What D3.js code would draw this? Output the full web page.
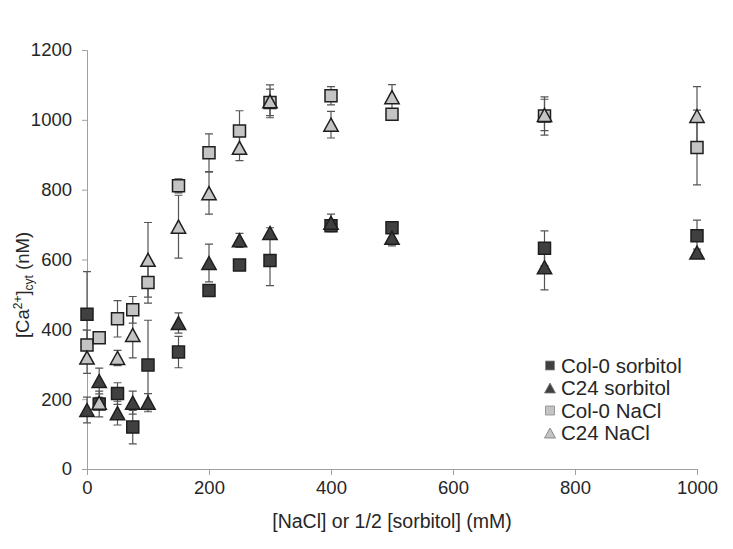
<!DOCTYPE html>
<html>
<head>
<meta charset="utf-8">
<script src="https://cdn.jsdelivr.net/npm/d3@7"></script>
<style>
  body { margin: 0; background: #fff; }
  text { font-family: "Liberation Sans", Arial, sans-serif; fill: #262626; }
</style>
</head>
<body>
<div id="app"></div>
<script>
// concentrations (mM)
let conc = [0, 20, 50, 75, 100, 150, 200, 250, 300, 400, 500, 750, 1000]

// [Ca2+]cyt means (nM) and error (nM)
let col0Sorb = [443, 186, 216, 120, 298, 335, 511, 584, 597, 697, 691, 632, 668]
let col0SorbErr = [122, 37, 31, 48, 128, 45, 10, 10, 72, 15, 15, 50, 45]
let c24Sorb = [169, 252, 160, 190, 190, 418, 590, 655, 676, 705, 662, 578, 620]
let c24SorbErr = [37, 37, 34, 33, 26, 29, 54, 20, 15, 25, 23, 65, 10]
let col0NaCl = [355, 376, 430, 456, 534, 811, 906, 968, 1050, 1069, 1016, 1011, 921]
let col0NaClErr = [43, 15, 52, 38, 59, 20, 54, 58, 38, 26, 10, 55, 107]
let c24NaCl = [319, 190, 318, 384, 599, 694, 790, 920, 1053, 986, 1065, 1014, 1011]
let c24NaClErr = [45, 15, 22, 66, 107, 90, 60, 37, 47, 38, 36, 45, 84]

let seriesNames = ["Col-0 sorbitol", "C24 sorbitol", "Col-0 NaCl", "C24 NaCl"]
let xTicks = [0, 200, 400, 600, 800, 1000]
let yTicks = [0, 200, 400, 600, 800, 1000, 1200]

let series = [
  {name: seriesNames[0], vals: col0Sorb, err: col0SorbErr, shape: "square", fill: "#404040"},
  {name: seriesNames[1], vals: c24Sorb, err: c24SorbErr, shape: "triangle", fill: "#404040"},
  {name: seriesNames[2], vals: col0NaCl, err: col0NaClErr, shape: "square", fill: "#c4c4c4"},
  {name: seriesNames[3], vals: c24NaCl, err: c24NaClErr, shape: "triangle", fill: "#c4c4c4"}
]

let width = 733, height = 549
let margin = {top: 50, right: 36, bottom: 80, left: 87}

let svg = d3.select("#app").append("svg")
    .attr("width", width)
    .attr("height", height)

let x = d3.scaleLinear().domain([0, 1000]).range([margin.left, width - margin.right])
let y = d3.scaleLinear().domain([0, 1200]).range([height - margin.bottom, margin.top])

// axes
let xAxis = svg.append("g")
    .attr("transform", `translate(0,${y(0)})`)
    .call(d3.axisBottom(x).tickValues(xTicks).tickSize(6).tickPadding(6).tickFormat(d3.format("d")))
let yAxis = svg.append("g")
    .attr("transform", `translate(${x(0)},0)`)
    .call(d3.axisLeft(y).tickValues(yTicks).tickSize(5).tickPadding(10).tickFormat(d3.format("d")))

for (let ax of [xAxis, yAxis]) {
  ax.select(".domain").attr("stroke", "#a0a0a0")
  ax.selectAll(".tick line").attr("stroke", "#a0a0a0")
  ax.selectAll(".tick text")
    .attr("font-size", 18.5)
    .attr("font-family", "'Liberation Sans', Arial, sans-serif")
    .attr("fill", "#262626")
}

// axis titles
svg.append("text")
    .attr("x", (x(0) + x(1000)) / 2)
    .attr("y", 528)
    .attr("text-anchor", "middle")
    .attr("font-size", 19.5)
    .text("[NaCl] or 1/2 [sorbitol] (mM)")

let yt = svg.append("text")
    .attr("transform", "translate(29,285) rotate(-90)")
    .attr("text-anchor", "middle")
    .attr("font-size", 18.5)
yt.append("tspan").text("[Ca")
yt.append("tspan").attr("font-size", 12).attr("dy", -7).text("2+")
yt.append("tspan").attr("dy", 7).text("]")
yt.append("tspan").attr("font-size", 12).attr("dy", 4).text("cyt")
yt.append("tspan").attr("dy", -4).text(" (nM)")

// marker paths
function markerPath(shape, s) {
  if (shape === "square") {
    let h = s / 2
    return `M${-h},${-h}H${h}V${h}H${-h}Z`
  }
  let w = s * 1.1 / 2, h = s * 1.0 / 2
  return `M0,${-h}L${w},${h}L${-w},${h}Z`
}

// error bars
let capW = 4
for (let s of series) {
  let g = svg.append("g").attr("stroke", "#555").attr("stroke-width", 1.2).attr("fill", "none")
  conc.forEach((c, i) => {
    let cx = x(c), top = y(s.vals[i] + s.err[i]), bot = y(s.vals[i] - s.err[i])
    g.append("path")
      .attr("d", `M${cx},${top}V${bot}M${cx - capW},${top}H${cx + capW}M${cx - capW},${bot}H${cx + capW}`)
  })
}

// markers
for (let s of series) {
  svg.append("g").selectAll("path")
    .data(conc.map((c, i) => ({c: c, v: s.vals[i]})))
    .enter().append("path")
    .attr("transform", d => `translate(${x(d.c)},${y(d.v)})`)
    .attr("d", markerPath(s.shape, s.shape === "square" ? 12 : 13))
    .attr("fill", s.fill)
    .attr("stroke", "#1e1e1e")
    .attr("stroke-width", 1.5)
}

// legend
let legend = svg.append("g")
series.forEach((s, i) => {
  let ly = 365.5 + i * 22.5
  legend.append("path")
    .attr("transform", `translate(550,${ly})`)
    .attr("d", markerPath(s.shape, s.shape === "square" ? 9 : 10))
    .attr("fill", s.fill)
    .attr("stroke", s.shape === "square" ? "#888" : "#777")
    .attr("stroke-width", 0.8)
  legend.append("text")
    .attr("x", 561)
    .attr("y", ly + 7)
    .attr("font-size", 20.5)
    .text(s.name)
})
</script>
</body>
</html>
